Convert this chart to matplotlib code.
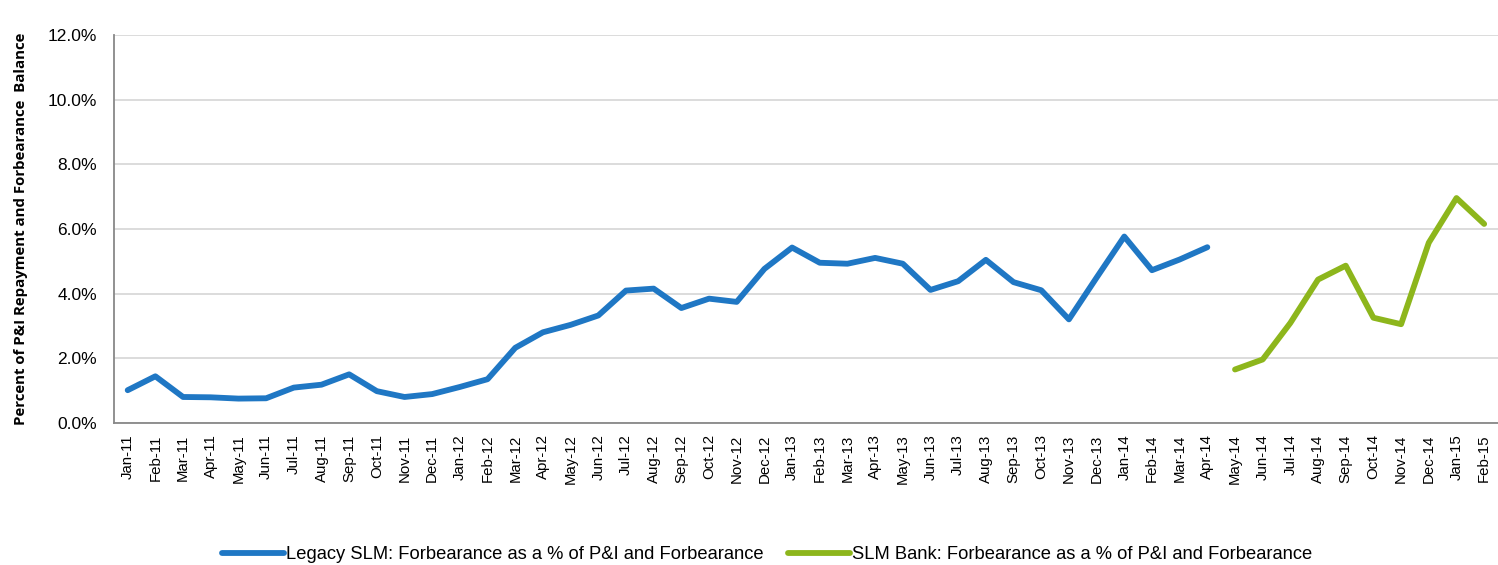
import matplotlib
matplotlib.use("Agg")
import matplotlib.pyplot as plt
from matplotlib.ticker import FuncFormatter

plt.rcParams['font.family'] = ['Liberation Sans', 'DejaVu Sans']

months = [
    "Jan-11", "Feb-11", "Mar-11", "Apr-11", "May-11", "Jun-11", "Jul-11", "Aug-11", "Sep-11", "Oct-11", "Nov-11", "Dec-11",
    "Jan-12", "Feb-12", "Mar-12", "Apr-12", "May-12", "Jun-12", "Jul-12", "Aug-12", "Sep-12", "Oct-12", "Nov-12", "Dec-12",
    "Jan-13", "Feb-13", "Mar-13", "Apr-13", "May-13", "Jun-13", "Jul-13", "Aug-13", "Sep-13", "Oct-13", "Nov-13", "Dec-13",
    "Jan-14", "Feb-14", "Mar-14", "Apr-14", "May-14", "Jun-14", "Jul-14", "Aug-14", "Sep-14", "Oct-14", "Nov-14", "Dec-14",
    "Jan-15", "Feb-15",
]

legacy_slm = [
    1.02, 1.45, 0.81, 0.80, 0.76, 0.77, 1.10, 1.19, 1.51, 0.99, 0.81, 0.90,
    1.12, 1.36, 2.33, 2.81, 3.04, 3.33, 4.10, 4.16, 3.56, 3.85, 3.75, 4.77,
    5.43, 4.96, 4.93, 5.11, 4.93, 4.12, 4.39, 5.05, 4.36, 4.11, 3.21, 4.50,
    5.77, 4.73, 5.06, 5.44,
]

slm_bank = [1.66, 1.97, 3.10, 4.44, 4.87, 3.26, 3.06, 5.58, 6.96, 6.16]

legacy_label = "Legacy SLM: Forbearance as a % of P&I and Forbearance"
bank_label = "SLM Bank: Forbearance as a % of P&I and Forbearance"

fig = plt.figure(figsize=(14.98, 5.65), dpi=100)
ax = fig.add_axes([0.076, 0.251, 0.924, 0.687])

x_legacy = list(range(len(legacy_slm)))
x_bank = list(range(len(legacy_slm), len(legacy_slm) + len(slm_bank)))

ax.plot(x_legacy, legacy_slm, color="#1f77c4", lw=4.2, solid_capstyle="round",
        solid_joinstyle="round", label=legacy_label)
ax.plot(x_bank, slm_bank, color="#8db61c", lw=4.2, solid_capstyle="round",
        solid_joinstyle="round", label=bank_label)

ax.set_xlim(-0.5, len(months) - 0.5)
ax.set_ylim(0, 12)
ax.set_yticks([0, 2, 4, 6, 8, 10, 12])
ax.yaxis.set_major_formatter(FuncFormatter(lambda v, p: f"{v:.1f}%"))
ax.set_xticks(range(len(months)))
ax.set_xticklabels(months, rotation=90, fontsize=10.8)
ax.tick_params(axis='x', length=0, pad=8)
ax.tick_params(axis='y', length=0, pad=12, labelsize=12.5)

ax.grid(axis='y', color="#d9d9d9", lw=1.3)
ax.set_axisbelow(True)
for s in ["top", "right"]:
    ax.spines[s].set_visible(False)
for s in ["left", "bottom"]:
    ax.spines[s].set_color("#888888")
    ax.spines[s].set_linewidth(1.3)

ax.set_ylabel("Percent of P&I Repayment and Forbearance  Balance", fontsize=10.8,
              fontweight="bold", family=['Open Sans', 'DejaVu Sans'])
ax.yaxis.set_label_coords(-0.062, 0.5)

fig.legend(loc="center", bbox_to_anchor=(0.512, 0.018), ncol=2, frameon=False,
           fontsize=13.2, handlelength=3.4, handletextpad=0.1, columnspacing=1.3)

fig.savefig("out.png", dpi=100)
